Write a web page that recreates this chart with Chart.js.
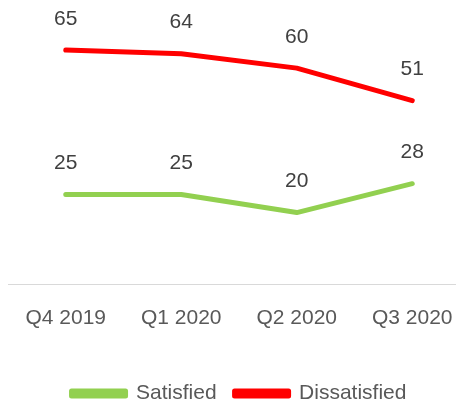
<!DOCTYPE html>
<html>
<head>
<meta charset="utf-8">
<script src="https://cdn.jsdelivr.net/npm/chart.js@4"></script>
<style>
  html, body { margin: 0; padding: 0; background: #fff; }
  #wrap { width: 456px; height: 402px; overflow: hidden; }
  #box { width: 480px; height: 414px; }
</style>
</head>
<body>
<div id="wrap"><div id="box"><canvas id="myChart"></canvas></div></div>
<script>
const quarters = ["Q4 2019", "Q1 2020", "Q2 2020", "Q3 2020"];
const satisfied = [25, 25, 20, 28];
const dissatisfied = [65, 64, 60, 51];

const fontFamily = "'Liberation Sans', Arial, sans-serif";

// writes each point's value above it
const valueLabels = {
  id: "valueLabels",
  afterDatasetsDraw(chart) {
    const c = chart.ctx;
    c.save();
    c.font = "21px " + fontFamily;
    c.fillStyle = "#404040";
    c.textAlign = "center";
    c.textBaseline = "middle";
    chart.data.datasets.forEach((ds, i) => {
      chart.getDatasetMeta(i).data.forEach((pt, j) => {
        c.fillText(ds.data[j], pt.x, pt.y - 31);
      });
    });
    c.restore();
  },
};

const ctx = document.getElementById("myChart");

new Chart(ctx, {
  type: "line",
  data: {
    labels: quarters,
    datasets: [
      {
        label: "Satisfied",
        data: satisfied,
        borderColor: "#92d050",
        backgroundColor: "#92d050",
        borderWidth: 5,
        pointRadius: 0,
        tension: 0,
        borderJoinStyle: "round",
        borderCapStyle: "round",
      },
      {
        label: "Dissatisfied",
        data: dissatisfied,
        borderColor: "#ff0000",
        backgroundColor: "#ff0000",
        borderWidth: 5,
        pointRadius: 0,
        tension: 0,
        borderJoinStyle: "round",
        borderCapStyle: "round",
      },
    ],
  },
  options: {
    responsive: true,
    maintainAspectRatio: false,
    animation: false,
    layout: {
      padding: { left: 8, right: 10, top: 32, bottom: 0 },
    },
    scales: {
      x: {
        offset: true,
        grid: { display: false, drawTicks: false },
        border: { display: true, color: "#d9d9d9", width: 1 },
        ticks: {
          color: "#595959",
          padding: 21,
          font: { family: fontFamily, size: 21 },
        },
        // extra room between the quarter labels and the legend
        afterFit(scale) {
          scale.height += 13;
        },
      },
      y: {
        display: false,
        min: 0,
        max: 70,
      },
    },
    plugins: {
      legend: {
        position: "bottom",
        labels: {
          color: "#595959",
          boxWidth: 54,
          boxHeight: 5,
          padding: 18,
          font: { family: fontFamily, size: 21 },
        },
      },
      tooltip: { enabled: false },
    },
  },
  plugins: [valueLabels],
});
</script>
</body>
</html>
